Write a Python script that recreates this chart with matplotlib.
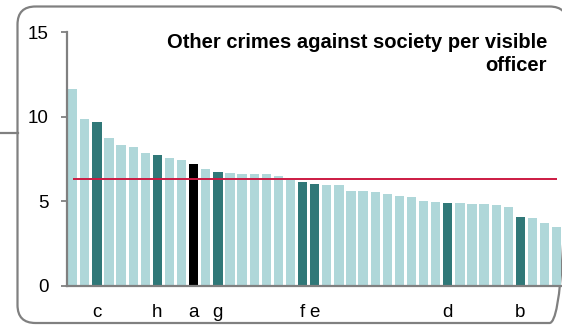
import matplotlib
matplotlib.use("Agg")
import matplotlib.pyplot as plt
from matplotlib.patches import FancyBboxPatch

plt.rcParams["font.family"] = ["Liberation Sans", "DejaVu Sans"]

# values per force, sorted descending
values = [11.66, 9.85, 9.69, 8.72, 8.31, 8.21, 7.88, 7.76, 7.58, 7.42,
          7.19, 6.89, 6.72, 6.66, 6.62, 6.62, 6.62, 6.52, 6.28, 6.11,
          6.01, 5.99, 5.95, 5.63, 5.58, 5.53, 5.42, 5.32, 5.28, 5.00,
          4.96, 4.92, 4.88, 4.84, 4.84, 4.77, 4.65, 4.08, 4.00, 3.70,
          3.47]
# labelled bars: index -> letter
labels = {2: "c", 7: "h", 10: "a", 12: "g", 19: "f", 20: "e", 31: "d", 37: "b"}
highlight = 10
average = 6.30
title = "Other crimes against society per visible\nofficer"
yticks = [0, 5, 10, 15]

LIGHT = "#afd7d9"
DARK = "#307878"
RED = "#cc1a42"
GREY = "#808080"

fig = plt.figure(figsize=(5.62, 3.25), dpi=100)

# background frame in pixel coordinates
bg = fig.add_axes([0, 0, 1, 1], zorder=0)
bg.set_xlim(0, 562)
bg.set_ylim(325, 0)
bg.axis("off")
frame = FancyBboxPatch((17.5, 6.5), 550, 316.5,
                       boxstyle="round,pad=0,rounding_size=18",
                       fc="none", ec=GREY, lw=1.6)
bg.add_patch(frame)
bg.plot([0, 17.5], [133, 133], color=GREY, lw=1.6)

ax = fig.add_axes([67 / 562, 39.3 / 325, 495 / 562, 253.4 / 325], zorder=1)
ax.patch.set_alpha(0)

x = list(range(len(values)))
colors = []
for i in x:
    if i == highlight:
        colors.append("black")
    elif i in labels:
        colors.append(DARK)
    else:
        colors.append(LIGHT)
ax.bar(x, values, width=0.77, color=colors, zorder=2)
ax.hlines(average, 0, 40, color=RED, lw=1.4, zorder=3)

ax.set_xlim(-0.47, 40.44)
ax.set_ylim(0, 15)
ax.set_yticks(yticks)
ax.set_xticks(list(labels.keys()))
ax.set_xticklabels(list(labels.values()))
ax.tick_params(axis="x", length=0, pad=13, labelsize=13.5)
ax.tick_params(axis="y", length=4.5, width=1.3, color=GREY, pad=8.5,
               labelsize=13.5)

for side in ["top", "right"]:
    ax.spines[side].set_visible(False)
for side in ["left", "bottom"]:
    ax.spines[side].set_color(GREY)
    ax.spines[side].set_linewidth(1.6)

ax.text(0.97, 0.999, title, transform=ax.transAxes, ha="right", va="top",
        fontsize=14.5, fontweight="bold", linespacing=1.3)

fig.savefig("out.png", dpi=100)
